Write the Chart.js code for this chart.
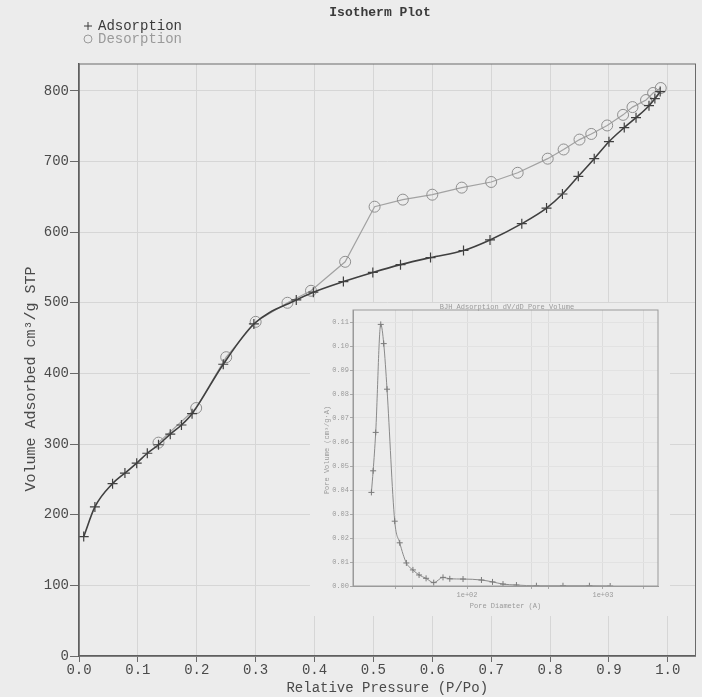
<!DOCTYPE html>
<html>
<head>
<meta charset="utf-8">
<title>Isotherm Plot</title>
<script src="https://cdn.jsdelivr.net/npm/chart.js@4.4.0/dist/chart.umd.min.js"></script>
<style>
  html, body { margin: 0; padding: 0; background: #ececec; }
  #wrap { position: relative; width: 702px; height: 697px; overflow: hidden; }
  #main { position: absolute; left: 0; top: 0; }
  #inset { position: absolute; left: 310px; top: 296px; }
</style>
</head>
<body>
<div id="wrap">
  <canvas id="main" width="702" height="697"></canvas>
  <canvas id="inset" width="360" height="320"></canvas>
</div>
<script>
/* ── Isotherm plot with BJH pore volume inset ── */

// ── Data ──

const adsX = [0.008, 0.027, 0.057, 0.078, 0.098, 0.116, 0.135, 0.155, 0.174, 0.192, 0.245, 0.297,
  0.369, 0.398, 0.449, 0.499, 0.546, 0.597, 0.653, 0.698, 0.752, 0.794, 0.821, 0.848, 0.875,
  0.900, 0.926, 0.946, 0.968, 0.978, 0.987];
const adsY = [169, 211, 244, 259, 273, 287, 299, 314, 327, 343, 413, 470,
  504, 515, 530, 543, 554, 564, 574, 589, 612, 634, 654, 679, 704,
  728, 748, 762, 779, 789, 799];

const desX = [0.135, 0.199, 0.250, 0.300, 0.354, 0.394, 0.452, 0.502, 0.550, 0.600, 0.650, 0.700,
  0.745, 0.796, 0.823, 0.850, 0.870, 0.897, 0.924, 0.940, 0.963, 0.975, 0.988];
const desY = [302, 351, 423, 473, 500, 517, 558, 636, 646, 653, 663, 671,
  684, 704, 717, 731, 739, 751, 766, 777, 787, 797, 804];

const xTicks = [0, 0.1, 0.2, 0.3, 0.4, 0.5, 0.6, 0.7, 0.8, 0.9, 1.0];
const yTicks = [0, 100, 200, 300, 400, 500, 600, 700, 800];

// inset: BJH adsorption dV/dD pore volume
const poreD = [19.8, 20.4, 21.3, 23.2, 24.4, 25.8, 29.4, 32, 35.8, 40, 44.4, 50, 56.9, 66.6,
  74.7, 93.5, 127.7, 154, 184, 231, 324, 508, 795, 1130];
const poreDV = [0.039, 0.048, 0.064, 0.109, 0.101, 0.082, 0.027, 0.018, 0.0096, 0.0067, 0.0046,
  0.0032, 0.0014, 0.0036, 0.0030, 0.0029, 0.0025, 0.0017, 0.0008, 0.0004, 0.0001, 0.0001, 0.0001, 0];

const insetXTicks = [30, 40, 100, 300, 400, 1000, 2000];
const insetYTicks = [0, 0.01, 0.02, 0.03, 0.04, 0.05, 0.06, 0.07, 0.08, 0.09, 0.10, 0.11];

const MONO = '"Liberation Mono", "DejaVu Sans Mono", monospace';

const toPoints = (xs, ys) => xs.map((x, i) => ({ x, y: ys[i] }));

// ── Main chart decorations: frame, title, legend, y title ──

const mainDecor = {
  id: 'mainDecor',
  afterDraw(chart) {
    const { ctx, chartArea: a } = chart;
    ctx.save();
    ctx.strokeStyle = '#6a6a6a';
    ctx.lineWidth = 1;
    ctx.strokeRect(a.left, a.top, a.right - a.left, a.bottom - a.top);

    ctx.fillStyle = '#3a3a3a';
    ctx.textAlign = 'center';
    ctx.textBaseline = 'middle';
    ctx.font = `bold 13px ${MONO}`;
    ctx.fillText('Isotherm Plot', 380, 13);

    // legend
    ctx.textAlign = 'left';
    ctx.font = `14px ${MONO}`;
    ctx.fillStyle = '#3a3a3a';
    ctx.fillText('Adsorption', 98, 26);
    ctx.strokeStyle = '#3a3a3a';
    ctx.beginPath();
    ctx.moveTo(84, 26); ctx.lineTo(92, 26);
    ctx.moveTo(88, 22); ctx.lineTo(88, 30);
    ctx.stroke();

    ctx.fillStyle = '#9a9a9a';
    ctx.fillText('Desorption', 98, 39);
    ctx.strokeStyle = '#9a9a9a';
    ctx.beginPath();
    ctx.arc(88, 39, 4, 0, Math.PI * 2);
    ctx.stroke();

    // y axis title
    ctx.translate(31, 379);
    ctx.rotate(-Math.PI / 2);
    ctx.textAlign = 'center';
    ctx.fillStyle = '#4a4a4a';
    ctx.font = `15px ${MONO}`;
    ctx.fillText('Volume Adsorbed cm\u00B3/g STP', 0, 0);
    ctx.restore();
  }
};

new Chart(document.getElementById('main'), {
  type: 'line',
  data: {
    datasets: [
      {
        label: 'Adsorption',
        data: toPoints(adsX, adsY),
        borderColor: '#404040',
        borderWidth: 1.6,
        pointStyle: 'cross',
        pointRadius: 5,
        pointBorderColor: '#404040',
        pointBorderWidth: 1.2,
        cubicInterpolationMode: 'monotone',
        fill: false,
      },
      {
        label: 'Desorption',
        data: toPoints(desX, desY),
        borderColor: '#a2a2a2',
        borderWidth: 1.2,
        pointStyle: 'circle',
        pointRadius: 5.5,
        pointBackgroundColor: 'rgba(0,0,0,0)',
        pointBorderColor: '#8e8e8e',
        pointBorderWidth: 1,
        tension: 0,
        fill: false,
      }
    ]
  },
  options: {
    responsive: false,
    animation: false,
    devicePixelRatio: 1,
    layout: { padding: { top: 64, right: 2, left: 0, bottom: 0 } },
    plugins: { legend: { display: false }, title: { display: false }, tooltip: { enabled: false } },
    scales: {
      x: {
        type: 'linear',
        min: 0,
        max: 1.047,
        afterBuildTicks: ax => { ax.ticks = xTicks.map(v => ({ value: v })); },
        afterFit: s => { s.height = 41; },
        ticks: {
          color: '#4a4a4a',
          font: { family: MONO, size: 14 },
          padding: 0,
          maxRotation: 0,
          callback: v => v.toFixed(1),
        },
        grid: { color: '#d6d6d6', tickColor: '#6a6a6a', tickLength: 6 },
        border: { color: '#555', width: 1.5 },
        title: {
          display: true,
          text: 'Relative Pressure (P/Po)',
          color: '#4a4a4a',
          font: { family: MONO, size: 14, lineHeight: 1.2 },
          padding: { top: 0, bottom: 0 },
        },
      },
      y: {
        type: 'linear',
        min: 0,
        max: 838,
        afterBuildTicks: ax => { ax.ticks = yTicks.map(v => ({ value: v })); },
        afterFit: s => { s.width = 79; },
        ticks: {
          color: '#4a4a4a',
          font: { family: MONO, size: 14 },
          padding: 1,
        },
        grid: { color: '#d6d6d6', tickColor: '#6a6a6a', tickLength: 9 },
        border: { color: '#555', width: 1.5 },
      }
    }
  },
  plugins: [mainDecor]
});

// ── Inset ──

const insetDecor = {
  id: 'insetDecor',
  beforeDraw(chart) {
    const { ctx } = chart;
    ctx.save();
    ctx.fillStyle = '#ececec';
    ctx.fillRect(0, 7, chart.width, chart.height - 7);
    ctx.restore();
  },
  afterDraw(chart) {
    const { ctx, chartArea: a } = chart;
    ctx.save();
    ctx.strokeStyle = '#9a9a9a';
    ctx.lineWidth = 1;
    ctx.strokeRect(a.left, a.top, a.right - a.left, a.bottom - a.top);
    ctx.fillStyle = '#9a9a9a';
    ctx.textAlign = 'center';
    ctx.textBaseline = 'middle';
    ctx.font = `7px ${MONO}`;
    ctx.fillText('BJH Adsorption dV/dD Pore Volume', 197, 11);
    ctx.translate(17, 154);
    ctx.rotate(-Math.PI / 2);
    ctx.fillText('Pore Volume (cm\u00B3/g\u00B7A)', 0, 0);
    ctx.restore();
  }
};

new Chart(document.getElementById('inset'), {
  type: 'line',
  data: {
    datasets: [{
      label: 'BJH Adsorption dV/dD Pore Volume',
      data: toPoints(poreD, poreDV),
      borderColor: '#8a8a8a',
      borderWidth: 1,
      pointStyle: 'cross',
      pointRadius: 3,
      pointBorderColor: '#7a7a7a',
      pointBorderWidth: 1,
      cubicInterpolationMode: 'monotone',
      fill: false,
    }]
  },
  options: {
    responsive: false,
    animation: false,
    devicePixelRatio: 1,
    layout: { padding: { top: 14, right: 12, left: 0, bottom: 0 } },
    plugins: { legend: { display: false }, title: { display: false }, tooltip: { enabled: false } },
    scales: {
      x: {
        type: 'logarithmic',
        min: 14.5,
        max: 2540,
        afterBuildTicks: ax => { ax.ticks = insetXTicks.map(v => ({ value: v })); },
        afterFit: s => { s.height = 30; },
        ticks: {
          color: '#9a9a9a',
          font: { family: MONO, size: 7 },
          padding: 2,
          maxRotation: 0,
          autoSkip: false,
          callback: v => (v === 100 ? '1e+02' : v === 1000 ? '1e+03' : ''),
        },
        grid: { color: '#dcdcdc', tickColor: '#aaa', tickLength: 3 },
        border: { color: '#9a9a9a', width: 1 },
        title: {
          display: true,
          text: 'Pore Diameter (A)',
          color: '#9a9a9a',
          font: { family: MONO, size: 7, lineHeight: 1.2 },
          padding: { top: 0, bottom: 6 },
        },
      },
      y: {
        type: 'linear',
        min: 0,
        max: 0.115,
        afterBuildTicks: ax => { ax.ticks = insetYTicks.map(v => ({ value: v })); },
        afterFit: s => { s.width = 43; },
        ticks: {
          color: '#9a9a9a',
          font: { family: MONO, size: 7 },
          padding: 1,
          callback: v => v.toFixed(2),
        },
        grid: { color: '#e2e2e2', tickColor: '#aaa', tickLength: 3 },
        border: { color: '#9a9a9a', width: 1 },
      }
    }
  },
  plugins: [insetDecor]
});
</script>
</body>
</html>
